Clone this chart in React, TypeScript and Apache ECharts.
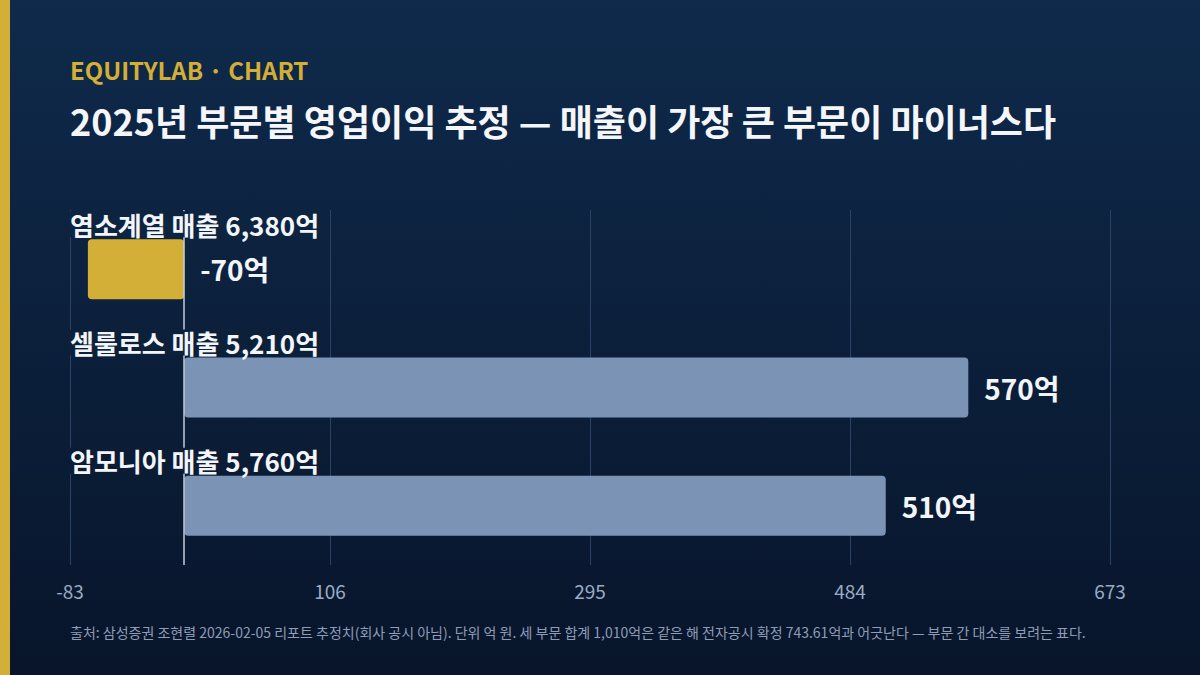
import React, { useEffect, useRef } from 'react';
import * as echarts from 'echarts';

// 부문별 2025년 추정치 (억 원)
const segments = ['염소계열', '셀룰로스', '암모니아'];
const revenue = [6380, 5210, 5760];
const operatingProfit = [-70, 570, 510];
const xTicks = [-83, 106, 295, 484, 673];

const FONT = '"Noto Sans CJK KR", "Noto Sans", sans-serif';
const BG_TOP = '#0f2a4b';
const BG_BOTTOM = '#08152b';
// 라벨 뒤 배경 (그라데이션 위치별 근사치)
const labelBg = ['#0d2441', '#0c203a', '#0b1c34'];

const App = () => {
    const chartRef = useRef(null);

    useEffect(() => {
        const chartDom = chartRef.current;
        if (!chartDom) return;
        document.body.style.margin = '0';

        const myChart = echarts.init(chartDom, null, { renderer: 'svg' });

        const categories = segments.map((s, i) => `${s} 매출 ${revenue[i].toLocaleString('en-US')}억`);
        const rich: any = {};
        labelBg.forEach((c, i) => {
            rich['c' + i] = {
                fontFamily: FONT,
                fontSize: 26,
                fontWeight: 'bold',
                color: '#f2f5fa',
                backgroundColor: c,
                lineHeight: 30,
                padding: [0, 2, 0, 0],
            };
        });

        const option = {
            animation: false,
            textStyle: { fontFamily: FONT },
            graphic: [
                {
                    type: 'rect',
                    z: -10,
                    shape: { x: 0, y: 0, width: 1200, height: 675 },
                    style: {
                        fill: new echarts.graphic.LinearGradient(0, 0, 0, 1, [
                            { offset: 0, color: BG_TOP },
                            { offset: 1, color: BG_BOTTOM },
                        ]),
                    },
                    silent: true,
                },
                {
                    type: 'rect',
                    z: 10,
                    shape: { x: 0, y: 0, width: 10, height: 675 },
                    style: { fill: '#d4af37' },
                    silent: true,
                },
                {
                    type: 'text',
                    left: 70,
                    top: 57,
                    style: {
                        text: 'EQUITYLAB · CHART',
                        fontFamily: FONT,
                        fontSize: 24,
                        fontWeight: 'bold',
                        fill: '#d4af37',
                    },
                },
                {
                    type: 'text',
                    left: 70,
                    top: 102,
                    style: {
                        text: '2025년 부문별 영업이익 추정 — 매출이 가장 큰 부문이 마이너스다',
                        fontFamily: FONT,
                        fontSize: 36,
                        fontWeight: 'bold',
                        fill: '#f4f6fa',
                    },
                },
                {
                    type: 'text',
                    left: 70,
                    top: 625,
                    style: {
                        text: '출처: 삼성증권 조현렬 2026-02-05 리포트 추정치(회사 공시 아님). 단위 억 원. 세 부문 합계 1,010억은 같은 해 전자공시 확정 743.61억과 어긋난다 — 부문 간 대소를 보려는 표다.',
                        fontFamily: FONT,
                        fontSize: 14,
                        fill: '#8e9db5',
                    },
                },
            ],
            grid: {
                left: 70,
                right: 90,
                top: 210,
                bottom: 110,
                containLabel: false,
            },
            xAxis: {
                type: 'value',
                min: xTicks[0],
                max: xTicks[xTicks.length - 1],
                interval: xTicks[1] - xTicks[0],
                axisLine: { show: false },
                axisTick: { show: false },
                splitLine: { lineStyle: { color: '#2a4467', width: 1 } },
                axisLabel: {
                    color: '#9aabc4',
                    fontSize: 19,
                    fontFamily: FONT,
                    margin: 16,
                },
            },
            yAxis: {
                type: 'category',
                data: categories,
                inverse: true,
                z: 5,
                axisLine: { show: false },
                axisTick: { show: false },
                axisLabel: {
                    inside: true,
                    margin: 0,
                    verticalAlign: 'bottom',
                    padding: [0, 0, 30, 0],
                    formatter: (v: string, i: number) => `{c${i}|${v}}`,
                    rich,
                },
            },
            series: [
                {
                    type: 'bar',
                    barWidth: 60,
                    data: operatingProfit.map((v, i) => ({
                        value: v,
                        itemStyle: {
                            color: v < 0 ? '#d4af37' : '#7b93b5',
                            borderRadius: 4,
                        },
                    })),
                    label: {
                        show: true,
                        position: 'right',
                        distance: 16,
                        formatter: (p: any) => `${p.value}억`,
                        color: '#f2f5fa',
                        fontSize: 28,
                        fontWeight: 'bold',
                        fontFamily: FONT,
                    },
                    markLine: {
                        silent: true,
                        symbol: 'none',
                        label: { show: false },
                        lineStyle: { color: '#c3cddc', width: 1.5, type: 'solid' },
                        data: [{ xAxis: 0 }],
                    },
                },
            ],
        };

        myChart.setOption(option);

        return () => {
            myChart.dispose();
        };
    }, []);

    return <div ref={chartRef} style={{ width: '1200px', height: '675px' }}></div>;
};

export default App;
